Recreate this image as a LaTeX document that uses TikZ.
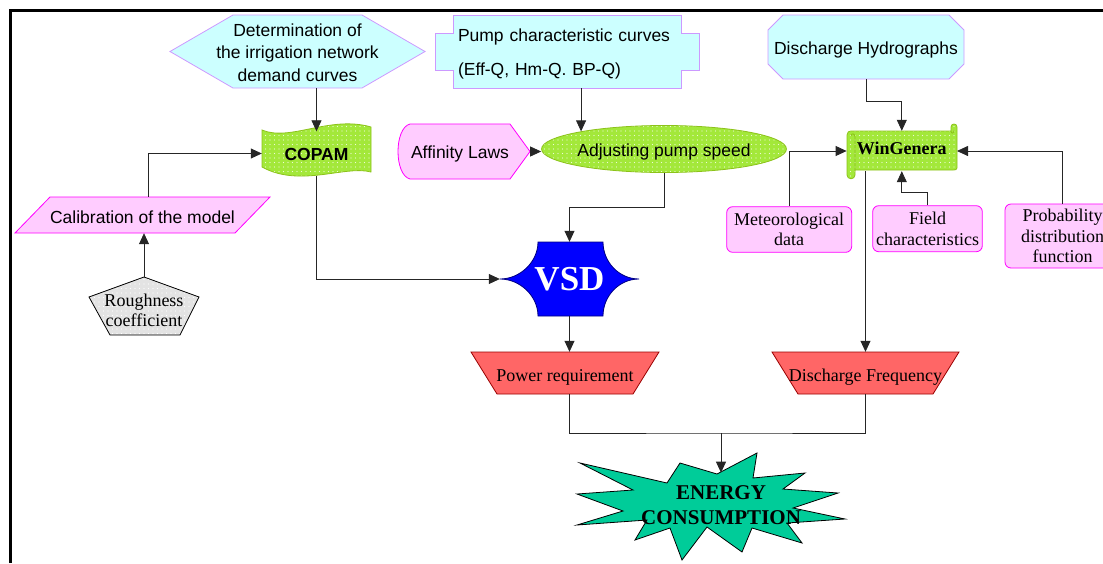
\documentclass[tikz,border=0pt]{standalone}
\usepackage{fontspec}
\setmainfont{Liberation Serif}
\newfontfamily\arialf{Liberation Sans}
\usetikzlibrary{arrows.meta,shapes.geometric,patterns.meta}
\definecolor{cyanfill}{HTML}{CCFFFF}
\definecolor{cyanline}{HTML}{CC99FF}
\definecolor{pinkfill}{HTML}{FFCCFF}
\definecolor{pinkline}{HTML}{FF00FF}
\definecolor{limefill}{HTML}{A3E83A}
\definecolor{limeline}{HTML}{8CC21A}
\definecolor{redfill}{HTML}{FF6666}
\definecolor{redline}{HTML}{990000}
\definecolor{vsdblue}{HTML}{0000FF}
\definecolor{burst}{HTML}{00CC99}
\definecolor{greyfill}{HTML}{E3E3E3}
\newcommand{\sanstxt}{\arialf\fontsize{17.5}{22.5}\selectfont}
\newcommand{\serftxt}{\fontsize{18}{20.5}\selectfont}

\begin{document}
\begin{tikzpicture}[x=1pt,y=-1pt]
  \tikzset{box/.style={inner sep=0pt, align=center, font=\sanstxt},
           tbox/.style={inner sep=0pt, align=center, font=\serftxt},
           cyanshape/.style={fill=cyanfill, draw=cyanline, line width=0.8pt},
           pinkshape/.style={fill=pinkfill, draw=pinkline, line width=0.8pt},
           limeshape/.style={preaction={fill=limefill}, pattern={Dots[distance=4.5pt,radius=0.6pt]},
                             pattern color=white!80!limefill, draw=limeline, line width=0.8pt},
           redshape/.style={fill=redfill, draw=redline, line width=0.8pt},
           pinkbox/.style={tbox, fill=pinkfill, draw=pinkline, line width=0.8pt, rounded corners=6pt},
           trap/.style={tbox, text height=20pt, text depth=4pt},
           con/.style={line width=0.8pt, black!85},
           arr/.style={con, -{Triangle[length=11pt,width=10pt]}}}
  \useasboundingbox (0,0) rectangle (1103,563);
  \draw[line width=3pt] (10,563) -- (10,10.5) -- (1103,10.5);

  % shapes
  \draw[cyanshape] (170,51.5) -- (233,15) -- (362,15) -- (425,51.5) -- (362,88) -- (233,88) -- cycle;
  \draw[cyanshape] (453,15) -- (681,15) -- (681,33) -- (699,33) -- (699,70) -- (681,70) -- (681,88)
                   -- (453,88) -- (453,70) -- (435,70) -- (435,33) -- (453,33) -- cycle;
  \draw[cyanshape] (783,15) -- (949,15) -- (964,30) -- (964,64) -- (949,79) -- (783,79) -- (768,64) -- (768,30) -- cycle;
  \draw[pinkshape] (410,124) -- (510,124) -- (530,151.5) -- (510,179) -- (410,179)
                   .. controls (394,175) and (394,128) .. (410,124);
  \draw[limeshape] (262,130) .. controls (290,142) and (330,115) .. (371,127) -- (371,172)
                   .. controls (345,165) and (300,188) .. (262,167) -- cycle;
  \draw[limeshape] (847,135) .. controls (847,132) and (849,131) .. (851,131) -- (951,131) -- (951,127)
                   .. controls (951,123) and (957,123) .. (957,127) -- (957,168)
                   .. controls (957,170) and (955,170) .. (953,170) -- (855,170) -- (855,175)
                   .. controls (855,180) and (847,180) .. (847,175) -- cycle;
  \draw[limeline, line width=0.8pt] (855,170) -- (855,137) .. controls (855,133) and (851,133) .. (851,136);
  \draw[limeline, line width=0.8pt] (951,131) .. controls (951,134) and (954,134) .. (954,130);
  \draw[pinkshape] (50,197) -- (270,197) -- (235,233) -- (15,233) -- cycle;
  \draw[preaction={fill=greyfill}, pattern={Dots[distance=4.5pt,radius=0.6pt]}, pattern color=white,
        draw=black, line width=0.8pt] (144,277) -- (199,297) -- (180,335) -- (110,335) -- (89,297) -- cycle;
  \draw[fill=vsdblue, draw=blue!50!black, line width=0.8pt] (538,242) -- (603,242)
        .. controls (603,262) and (619,279) .. (639,279) .. controls (619,279) and (603,296) .. (603,316)
        -- (538,316) .. controls (538,296) and (520,279) .. (500,279)
        .. controls (520,279) and (538,262) .. (538,242) -- cycle;
  \draw[redshape] (471,352) -- (659,352) -- (633,394) -- (497,394) -- cycle;
  \draw[redshape] (772,352) -- (959,352) -- (933,394) -- (798,394) -- cycle;
  \draw[fill=burst, draw=black, line width=0.8pt] (580,463) -- (667,483) -- (680,463) -- (717,474)
        -- (757,453) -- (753,478) -- (805,473) -- (783,489) -- (838,493) -- (793,508) -- (845,519)
        -- (787,523) -- (802,543) -- (752,528) -- (742,552) -- (707,527) -- (682,560) -- (670,528)
        -- (635,540) -- (647,520) -- (577,525) -- (623,511) -- (577,494) -- (633,490) -- cycle;

  % nodes
  \node[box, minimum width=255pt, minimum height=71pt] (Dem) at (297.5,52.5) {Determination of\\the irrigation network\\demand curves};
  \node[box, font=\arialf\fontsize{17.5}{34}\selectfont, align=left, text width=218pt, inner xsep=23pt,
        minimum height=68pt] (Pump) at (567,54) {Pump characteristic curves\\(Eff-Q, Hm-Q. BP-Q)};
  \node[box, text height=16pt, text depth=2pt, minimum width=196pt, minimum height=64pt] (Hyd) at (866,47) {Discharge Hydrographs};
  \node[box, font=\arialf\bfseries\fontsize{17.5}{20}\selectfont, text height=13pt, text depth=0pt,
        minimum width=109pt, minimum height=44pt] (COPAM) at (316.5,153.5) {COPAM};
  \node[box, text height=16pt, text depth=2.4pt, minimum width=140pt, minimum height=55pt] (Aff) at (460,151.5) {Affinity Laws};
  \node[box, ellipse, limeshape, text height=17pt, text depth=2pt, minimum width=198pt, minimum height=47pt] (Adj) at (664,149) {Adjusting pump speed};
  \node[tbox, font=\bfseries\fontsize{18}{20}\selectfont, text height=12pt, text depth=4.6pt,
        minimum width=110pt, minimum height=40pt] (Win) at (901.8,151) {WinGenera};
  \node[box, text height=18pt, text depth=1.4pt, minimum width=255pt, minimum height=36pt] (Cal) at (142.5,215) {Calibration of the model};
  \node[tbox, minimum width=110pt, minimum height=67pt] (Rough) at (144,310.5) {Roughness\\coefficient};
  \node[pinkbox, minimum width=125pt, minimum height=45.6pt] (Met) at (789.2,229.5) {Meteorological\\data};
  \node[pinkbox, minimum width=109.6pt, minimum height=46pt] (Field) at (927.5,228.7) {Field\\characteristics};
  \node[pinkbox, minimum width=115pt, minimum height=64pt] (Prob) at (1062.5,236) {Probability\\distribution\\function};
  \node[tbox, font=\bfseries\fontsize{35}{40}\selectfont, text=white, minimum width=139pt, minimum height=74pt] (VSD) at (569.5,279) {VSD};
  \node[trap, minimum width=188pt, minimum height=42pt] (Pow) at (565,373) {Power requirement};
  \node[trap, minimum width=187pt, minimum height=42pt] (Freq) at (865.5,373) {Discharge Frequency};
  \node[tbox, font=\bfseries\fontsize{21}{25}\selectfont, minimum height=65pt] (En) at (721,505.4) {ENERGY\\CONSUMPTION};
  \coordinate (J) at (721,433);

  % connectors
  \draw[arr] (Dem.south -| COPAM.north) -- (COPAM.north);
  \draw[arr] ([xshift=5.5pt]Cal.north) |- (COPAM.west);
  \draw[arr] (Rough.north) -- (Rough.north |- Cal.south);
  \draw[arr] (COPAM.south) |- (VSD.west);
  \draw[arr] (Pump.south -| Adj.168) -- (Adj.168);
  \draw[arr] (Aff.east) -- (Aff.east -| Adj.west);
  \draw[arr] (Adj.south) -- ++(0,-34pt) -| (VSD.north);
  \draw[arr] (VSD.south) -- (VSD.south |- Pow.north);
  \draw[con] (Pow.south -| VSD.south) |- (J) -| (Freq.south);
  \draw[arr] (J) -- (En.north);
  \draw[arr] (Hyd.south) -- ++(0,-22pt) -| (Win.north);
  \draw[arr] (Met.north) |- (Win.west);
  \draw[arr] (Field.north) -- ++(0,13pt) -| (Win.south);
  \draw[arr] (Prob.north) |- (Win.east);
  \draw[arr] (Freq.north |- Win.south) -- (Freq.north);
\end{tikzpicture}
\end{document}
